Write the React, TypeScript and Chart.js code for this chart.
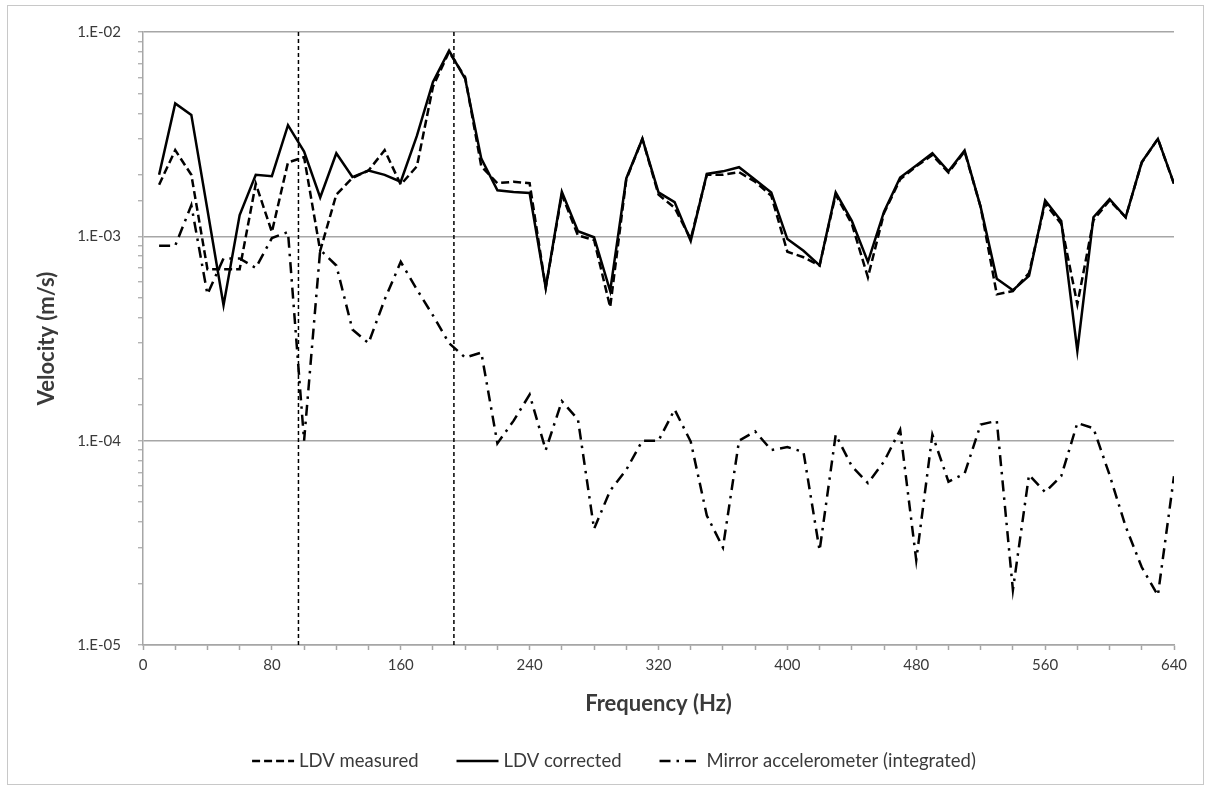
import React, { useEffect, useRef } from 'react';
import { Chart, registerables } from 'chart.js';

Chart.register(...registerables);

// ---------- data ----------
const freqs = [
  10, 20, 30, 40, 50, 60, 70, 80, 90, 100, 110, 120, 130, 140, 150, 160,
  170, 180, 190, 200, 210, 220, 230, 240, 250, 260, 270, 280, 290, 300, 310, 320,
  330, 340, 350, 360, 370, 380, 390, 400, 410, 420, 430, 440, 450, 460, 470, 480,
  490, 500, 510, 520, 530, 540, 550, 560, 570, 580, 590, 600, 610, 620, 630, 640,
];

const ldvMeasured = [
  1.79e-3, 2.64e-3, 2.0e-3, 6.9e-4, 6.9e-4, 6.9e-4, 1.81e-3, 1.05e-3,
  2.3e-3, 2.44e-3, 8.5e-4, 1.6e-3, 1.93e-3, 2.1e-3, 2.64e-3, 1.79e-3,
  2.2e-3, 5.4e-3, 8.0e-3, 6.0e-3, 2.2e-3, 1.82e-3, 1.85e-3, 1.82e-3,
  5.6e-4, 1.6e-3, 1.01e-3, 9.6e-4, 4.5e-4, 1.9e-3, 3.0e-3, 1.6e-3,
  1.38e-3, 9.7e-4, 2.0e-3, 2.0e-3, 2.06e-3, 1.85e-3, 1.58e-3, 8.4e-4,
  7.9e-4, 7.2e-4, 1.6e-3, 1.15e-3, 6.3e-4, 1.3e-3, 1.9e-3, 2.2e-3,
  2.5e-3, 2.05e-3, 2.6e-3, 1.39e-3, 5.2e-4, 5.4e-4, 6.6e-4, 1.45e-3,
  1.15e-3, 4.65e-4, 1.2e-3, 1.5e-3, 1.24e-3, 2.3e-3, 3.0e-3, 1.8e-3,
];

const ldvCorrected = [
  2.0e-3, 4.47e-3, 3.93e-3, 1.35e-3, 4.6e-4, 1.27e-3, 2.0e-3, 1.97e-3,
  3.5e-3, 2.6e-3, 1.55e-3, 2.55e-3, 1.95e-3, 2.1e-3, 2.0e-3, 1.85e-3,
  3.1e-3, 5.7e-3, 8.1e-3, 5.9e-3, 2.4e-3, 1.68e-3, 1.65e-3, 1.63e-3,
  5.6e-4, 1.65e-3, 1.06e-3, 9.9e-4, 5.4e-4, 1.92e-3, 3.0e-3, 1.64e-3,
  1.47e-3, 9.5e-4, 2.02e-3, 2.08e-3, 2.18e-3, 1.89e-3, 1.64e-3, 9.7e-4,
  8.5e-4, 7.2e-4, 1.64e-3, 1.19e-3, 7.5e-4, 1.32e-3, 1.94e-3, 2.22e-3,
  2.55e-3, 2.08e-3, 2.63e-3, 1.39e-3, 6.2e-4, 5.45e-4, 6.4e-4, 1.5e-3,
  1.19e-3, 2.75e-4, 1.24e-3, 1.52e-3, 1.24e-3, 2.31e-3, 3.0e-3, 1.81e-3,
];

const mirrorAccel = [
  9.0e-4, 9.0e-4, 1.42e-3, 5.2e-4, 7.8e-4, 7.8e-4, 7.0e-4, 9.8e-4,
  1.05e-3, 1.0e-4, 8.6e-4, 7.2e-4, 3.5e-4, 3.0e-4, 4.9e-4, 7.5e-4,
  5.5e-4, 4.1e-4, 3.0e-4, 2.55e-4, 2.7e-4, 9.7e-5, 1.25e-4, 1.68e-4,
  9.0e-5, 1.56e-4, 1.27e-4, 3.7e-5, 5.7e-5, 7.2e-5, 1.0e-4, 1.0e-4,
  1.42e-4, 9.9e-5, 4.3e-5, 3.0e-5, 1.0e-4, 1.11e-4, 9.0e-5, 9.3e-5,
  8.8e-5, 2.9e-5, 1.07e-4, 7.5e-5, 6.2e-5, 7.9e-5, 1.13e-4, 2.6e-5,
  1.07e-4, 6.3e-5, 6.9e-5, 1.2e-4, 1.25e-4, 1.86e-5, 6.8e-5, 5.6e-5,
  6.7e-5, 1.22e-4, 1.15e-4, 6.8e-5, 3.8e-5, 2.4e-5, 1.75e-5, 6.7e-5,
];

const markerFreqs = [96.5, 193];
const seriesNames = ['LDV measured', 'LDV corrected', 'Mirror accelerometer (integrated)'];
const yMin = 1e-5;
const yMax = 1e-2;
const xMin = 0;
const xMax = 640;
const xLabelStep = 80;
const xMinorStep = 20;

// ---------- styling ----------
const FONT = "Lato, 'Open Sans', sans-serif";
const TEXT = '#3a3a3a';
const GRID = '#a6a6a6';
const TITLE_SIZE = 22;
const TICK_SIZE = 15;
const LEGEND_SIZE = 18.5;

const isDecade = (v: number) => {
  const l = Math.log10(v);
  return Math.abs(l - Math.round(l)) < 1e-6;
};

const borderPlugin = {
  id: 'outerBorder',
  afterDraw(chart: any) {
    const { ctx } = chart;
    ctx.save();
    ctx.strokeStyle = '#c8c8c8';
    ctx.lineWidth = 1;
    ctx.setLineDash([]);
    ctx.strokeRect(7.5, 5.5, 1196, 779);
    ctx.restore();
  },
};

const legendPlugin = {
  id: 'bottomLegend',
  afterDraw(chart: any) {
    const { ctx } = chart;
    const ds = chart.data.datasets.slice(0, 3);
    const sampleW = 42;
    const textGap = 5;
    const itemGap = 38;
    const centerX = 614;
    const y = 761;
    ctx.save();
    ctx.font = `${LEGEND_SIZE}px ${FONT}`;
    const widths = ds.map((d: any) => ctx.measureText(d.label).width);
    const total =
      widths.reduce((a: number, w: number) => a + sampleW + textGap + w, 0) + itemGap * (ds.length - 1);
    let x = centerX - total / 2;
    ds.forEach((d: any, i: number) => {
      ctx.beginPath();
      ctx.setLineDash(d.borderDash || []);
      ctx.lineWidth = d.borderWidth;
      ctx.strokeStyle = d.borderColor;
      ctx.moveTo(x, y);
      ctx.lineTo(x + sampleW, y);
      ctx.stroke();
      ctx.setLineDash([]);
      ctx.fillStyle = TEXT;
      ctx.textBaseline = 'middle';
      ctx.textAlign = 'left';
      ctx.fillText(d.label, x + sampleW + textGap, y);
      x += sampleW + textGap + widths[i] + itemGap;
    });
    ctx.restore();
  },
};

export default function App() {
  const ref = useRef<HTMLCanvasElement | null>(null);

  useEffect(() => {
    document.body.style.margin = '0';
    if (!ref.current) return;
    Chart.defaults.font.family = FONT;

    const toPts = (arr: number[]) => freqs.map((f, i) => ({ x: f, y: arr[i] }));
    const lineCommon = {
      pointRadius: 0,
      pointHoverRadius: 0,
      borderColor: '#000000',
      backgroundColor: '#000000',
      borderWidth: 2.5,
      tension: 0,
      fill: false,
    };

    const markerSets = markerFreqs.map((f) => ({
      label: 'marker',
      data: [
        { x: f, y: yMin },
        { x: f, y: yMax },
      ],
      pointRadius: 0,
      borderColor: '#000000',
      borderWidth: 1.5,
      borderDash: [4, 3],
      fill: false,
    }));

    const titleLH = TITLE_SIZE * 1.2;

    const chart = new Chart(ref.current, {
      type: 'line',
      data: {
        datasets: [
          { ...lineCommon, label: seriesNames[0], data: toPts(ldvMeasured), borderDash: [8, 4] },
          { ...lineCommon, label: seriesNames[1], data: toPts(ldvCorrected), borderDash: [] },
          { ...lineCommon, label: seriesNames[2], data: toPts(mirrorAccel), borderDash: [11, 6, 2.5, 6] },
          ...markerSets,
        ] as any,
      },
      options: {
        responsive: false,
        animation: false,
        events: [],
        layout: { padding: { left: 0, right: 37, top: 32, bottom: 0 } },
        plugins: {
          legend: { display: false },
          tooltip: { enabled: false },
          title: { display: false },
        },
        scales: {
          x: {
            type: 'linear',
            min: xMin,
            max: xMax,
            afterFit: (s: any) => {
              s.height = 145;
            },
            ticks: {
              stepSize: xMinorStep,
              autoSkip: false,
              maxRotation: 0,
              padding: 6,
              color: TEXT,
              font: { size: TICK_SIZE },
              callback: (v: any) => (Number(v) % xLabelStep === 0 ? String(v) : ''),
            },
            grid: {
              drawOnChartArea: false,
              drawTicks: true,
              tickLength: 5,
              tickColor: GRID,
              tickWidth: 1.5,
            },
            border: { color: GRID, width: 1.5 },
            title: {
              display: true,
              text: 'Frequency (Hz)',
              color: TEXT,
              font: { size: TITLE_SIZE, weight: 'bold' },
              padding: { top: 0, bottom: 790 - 704 - titleLH / 2 },
            },
          },
          y: {
            type: 'logarithmic',
            min: yMin,
            max: yMax,
            afterFit: (s: any) => {
              s.width = 143;
            },
            ticks: {
              autoSkip: false,
              padding: 17,
              color: TEXT,
              font: { size: TICK_SIZE },
              callback: (v: any) => {
                const n = Number(v);
                if (!isDecade(n)) return '';
                const e = -Math.round(Math.log10(n));
                return '1.E-' + String(e).padStart(2, '0');
              },
            },
            grid: {
              color: (c: any) => (c.tick && isDecade(c.tick.value) ? GRID : 'rgba(0,0,0,0)'),
              lineWidth: 1.5,
              drawTicks: true,
              tickLength: 5,
              tickColor: GRID,
              tickWidth: 1.2,
            },
            border: { color: GRID, width: 1.5 },
            title: {
              display: true,
              text: 'Velocity (m/s)',
              color: TEXT,
              font: { size: TITLE_SIZE, weight: 'bold' },
              padding: { top: 47 - titleLH / 2, bottom: 0 },
            },
          },
        },
      } as any,
      plugins: [borderPlugin, legendPlugin],
    });

    return () => chart.destroy();
  }, []);

  return (
    <div style={{ width: 1211, height: 790, background: '#ffffff' }}>
      <canvas ref={ref} width={1211} height={790} style={{ display: 'block' }} />
    </div>
  );
}
